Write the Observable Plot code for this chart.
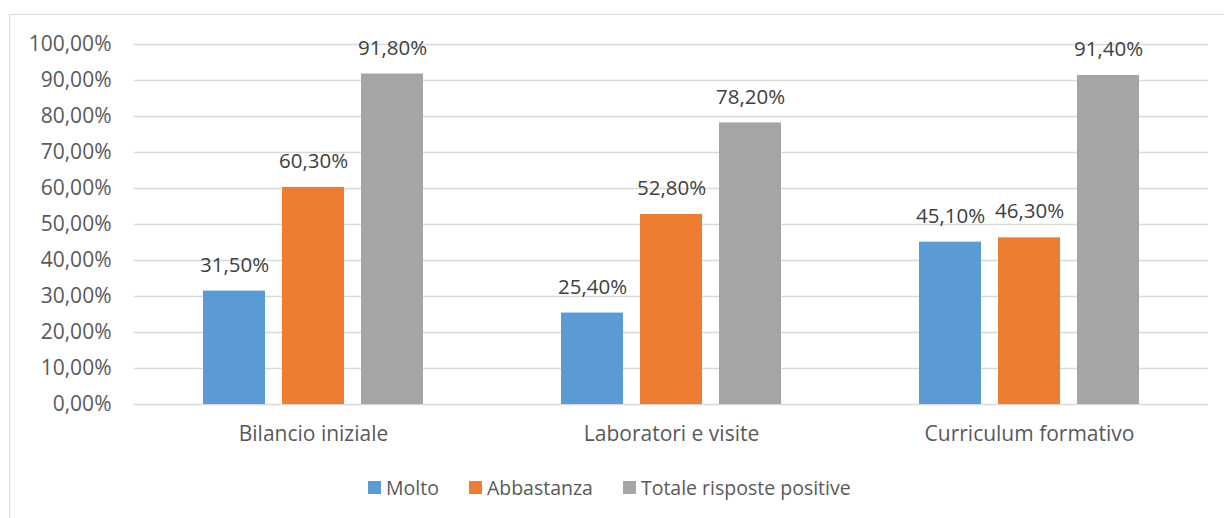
<!DOCTYPE html>
<html><head><meta charset="utf-8">
<script src="https://cdn.jsdelivr.net/npm/d3@7"></script>
<script src="https://cdn.jsdelivr.net/npm/@observablehq/plot@0.6"></script>
<style>
html,body{margin:0;padding:0;background:#fff;overflow:hidden;width:1224px;height:518px}
#frame{position:absolute;left:9px;top:14px;width:1240px;height:520px;border:1.5px solid #d9d9d9;box-sizing:border-box}
#chart{position:absolute;left:0;top:0}
#legend{position:absolute;left:368px;top:474px;display:flex;align-items:center;font-family:"Open Sans",sans-serif;font-size:19.5px;color:#595959;white-space:nowrap}
#legend .item{display:flex;align-items:center;margin-right:30px}
#legend .sw{width:13px;height:13px;margin-right:5px}
</style></head>
<body>
<div id="frame"></div>
<div id="chart"></div>
<div id="legend"></div>
<script>
const categories = ["Bilancio iniziale", "Laboratori e visite", "Curriculum formativo"];
const series = ["Molto", "Abbastanza", "Totale risposte positive"];
const molto = [0.315, 0.254, 0.451];
const abbastanza = [0.603, 0.528, 0.463];
const totale = [0.918, 0.782, 0.914];
const colors = ["#5B9BD5", "#ED7D31", "#A5A5A5"];
const yTicks = [0, 0.1, 0.2, 0.3, 0.4, 0.5, 0.6, 0.7, 0.8, 0.9, 1.0];

const seriesValues = [molto, abbastanza, totale];
const data = [];
categories.forEach((c, i) => {
  series.forEach((s, j) => {
    data.push({category: c, series: s, value: seriesValues[j][i]});
  });
});

const fmt = v => (v * 100).toFixed(2).replace(".", ",") + "%";

const chart = Plot.plot({
  width: 1224,
  height: 460,
  marginLeft: 133,
  marginRight: 16,
  marginTop: 44,
  marginBottom: 56,
  style: {fontFamily: "'Open Sans', sans-serif", fontSize: "21px", color: "#595959", background: "transparent"},
  fx: {domain: categories, padding: 0, axis: "bottom", label: null, tickSize: 0, tickPadding: 22},
  x: {domain: series, paddingInner: 0.215, paddingOuter: 0.873, axis: null},
  y: {domain: [0, 1], ticks: yTicks, tickFormat: fmt, tickSize: 0, tickPadding: 23, label: null},
  color: {domain: series, range: colors},
  marks: [
    Plot.ruleY(yTicks, {stroke: "#d9d9d9", strokeWidth: 1.3}),
    Plot.barY(data, {fx: "category", x: "series", y: "value", fill: "series"}),
    Plot.text(data, {fx: "category", x: "series", y: "value", text: d => fmt(d.value), dy: -26, fill: "#404040", fontSize: 20.5})
  ]
});
document.getElementById("chart").appendChild(chart);

const legend = document.getElementById("legend");
series.forEach((s, i) => {
  const item = document.createElement("div");
  item.className = "item";
  const sw = document.createElement("div");
  sw.className = "sw";
  sw.style.background = colors[i];
  const t = document.createElement("span");
  t.textContent = s;
  item.appendChild(sw);
  item.appendChild(t);
  legend.appendChild(item);
});
</script>
</body></html>
